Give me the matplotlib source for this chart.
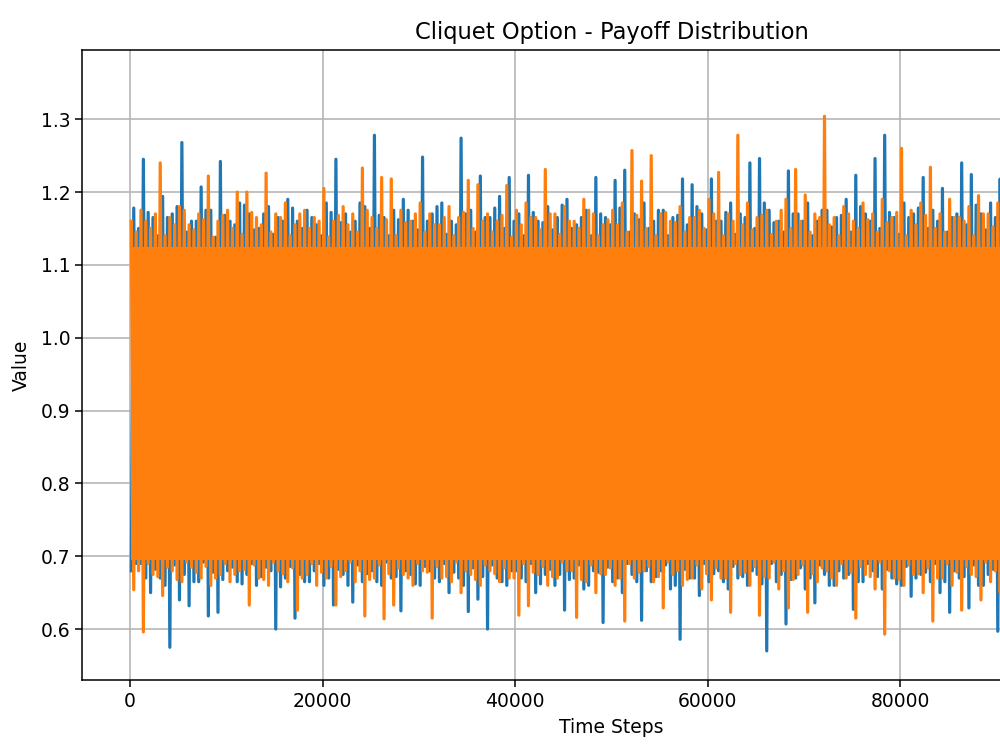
# -*- coding: utf-8 -*-
# Cliquet Option - Payoff Distribution (two simulated paths, extremes per 1000 steps)

import numpy as np
import matplotlib
matplotlib.use('Agg')
import matplotlib.pyplot as plt

# bin width in time steps (each bin keeps two local maxima and two local minima)
bin_steps = 1000

# typical dense range of each path
blue_core = (0.700, 1.120)
orange_core = (0.695, 1.125)

blue_top = [1.178, 1.245, 1.165, 1.194, 1.170, 1.268, 1.160, 1.207, 1.175, 1.242,
            1.160, 1.185, 1.170, 1.150, 1.180, 1.165, 1.190, 1.160, 1.175, 1.155,
            1.185, 1.245, 1.170, 1.160, 1.180, 1.278, 1.165, 1.175, 1.190, 1.160,
            1.248, 1.170, 1.185, 1.160, 1.274, 1.175, 1.222, 1.165, 1.194, 1.220,
            1.170, 1.223, 1.160, 1.180, 1.165, 1.190, 1.155, 1.175, 1.220, 1.165,
            1.216, 1.230, 1.170, 1.185, 1.160, 1.175, 1.165, 1.218, 1.210, 1.170,
            1.218, 1.160, 1.185, 1.170, 1.240, 1.246, 1.175, 1.160, 1.229, 1.170,
            1.185, 1.160, 1.175, 1.165, 1.190, 1.223, 1.170, 1.246, 1.278, 1.165,
            1.185, 1.170, 1.220, 1.175, 1.205, 1.165, 1.240, 1.224, 1.170, 1.185,
            1.218]

blue_top_mid = [1.150, 1.172, 1.140, 1.165, 1.180, 1.145, 1.160, 1.175, 1.138, 1.168,
                1.155, 1.182, 1.148, 1.170, 1.142, 1.160, 1.178, 1.150, 1.165, 1.140,
                1.172, 1.158, 1.145, 1.185, 1.150, 1.168, 1.140, 1.162, 1.175, 1.148,
                1.160, 1.180, 1.142, 1.155, 1.170, 1.145, 1.165, 1.178, 1.150, 1.160,
                1.140, 1.172, 1.158, 1.148, 1.182, 1.150, 1.165, 1.140, 1.170, 1.155,
                1.178, 1.145, 1.162, 1.150, 1.175, 1.140, 1.168, 1.155, 1.180, 1.148,
                1.160, 1.172, 1.142, 1.165, 1.150, 1.185, 1.158, 1.145, 1.170, 1.160,
                1.140, 1.175, 1.152, 1.168, 1.145, 1.180, 1.160, 1.150, 1.172, 1.142,
                1.165, 1.178, 1.150, 1.160, 1.145, 1.170, 1.155, 1.182, 1.148, 1.165,
                1.158]

blue_bottom = [0.680, 0.690, 0.650, 0.670, 0.575, 0.640, 0.632, 0.665, 0.618, 0.623,
               0.680, 0.665, 0.675, 0.660, 0.685, 0.600, 0.670, 0.615, 0.665, 0.680,
               0.660, 0.633, 0.675, 0.637, 0.665, 0.680, 0.660, 0.670, 0.625, 0.675,
               0.660, 0.680, 0.665, 0.650, 0.670, 0.624, 0.641, 0.600, 0.670, 0.660,
               0.680, 0.665, 0.650, 0.675, 0.660, 0.626, 0.670, 0.655, 0.680, 0.609,
               0.665, 0.650, 0.675, 0.612, 0.665, 0.680, 0.655, 0.586, 0.670, 0.646,
               0.665, 0.680, 0.655, 0.670, 0.660, 0.675, 0.570, 0.665, 0.607, 0.670,
               0.655, 0.636, 0.675, 0.660, 0.670, 0.627, 0.665, 0.680, 0.655, 0.670,
               0.660, 0.645, 0.675, 0.665, 0.650, 0.623, 0.670, 0.629, 0.660, 0.675,
               0.597]

blue_bottom_mid = [0.690, 0.670, 0.682, 0.660, 0.688, 0.675, 0.665, 0.692, 0.678, 0.668,
                   0.685, 0.662, 0.690, 0.672, 0.680, 0.658, 0.686, 0.675, 0.665, 0.690,
                   0.670, 0.682, 0.660, 0.688, 0.676, 0.665, 0.692, 0.672, 0.680, 0.662,
                   0.686, 0.670, 0.690, 0.678, 0.660, 0.684, 0.672, 0.688, 0.665, 0.680,
                   0.670, 0.690, 0.662, 0.682, 0.675, 0.668, 0.688, 0.660, 0.678, 0.685,
                   0.670, 0.690, 0.665, 0.680, 0.672, 0.688, 0.660, 0.682, 0.670, 0.690,
                   0.676, 0.665, 0.686, 0.672, 0.680, 0.662, 0.690, 0.675, 0.668, 0.684,
                   0.670, 0.688, 0.660, 0.680, 0.675, 0.665, 0.690, 0.672, 0.682, 0.662,
                   0.686, 0.670, 0.678, 0.690, 0.665, 0.680, 0.672, 0.688, 0.660, 0.682,
                   0.675]

orange_top = [1.160, 1.175, 1.150, 1.240, 1.165, 1.180, 1.155, 1.170, 1.222, 1.160,
              1.175, 1.200, 1.200, 1.165, 1.226, 1.170, 1.185, 1.155, 1.175, 1.165,
              1.205, 1.160, 1.180, 1.170, 1.233, 1.165, 1.220, 1.218, 1.175, 1.160,
              1.185, 1.170, 1.155, 1.180, 1.165, 1.216, 1.210, 1.170, 1.160, 1.209,
              1.175, 1.185, 1.165, 1.231, 1.170, 1.180, 1.160, 1.190, 1.170, 1.155,
              1.175, 1.185, 1.257, 1.215, 1.250, 1.170, 1.160, 1.180, 1.165, 1.175,
              1.190, 1.227, 1.170, 1.278, 1.185, 1.165, 1.175, 1.160, 1.190, 1.231,
              1.196, 1.170, 1.304, 1.165, 1.180, 1.160, 1.185, 1.170, 1.190, 1.165,
              1.260, 1.175, 1.185, 1.234, 1.170, 1.190, 1.165, 1.180, 1.195, 1.170,
              1.185]

orange_top_mid = [1.145, 1.160, 1.170, 1.140, 1.155, 1.175, 1.148, 1.162, 1.138, 1.168,
                  1.150, 1.142, 1.172, 1.155, 1.145, 1.165, 1.140, 1.170, 1.150, 1.160,
                  1.138, 1.168, 1.155, 1.145, 1.175, 1.150, 1.162, 1.140, 1.158, 1.170,
                  1.145, 1.155, 1.165, 1.140, 1.172, 1.150, 1.160, 1.145, 1.168, 1.138,
                  1.155, 1.165, 1.148, 1.170, 1.142, 1.160, 1.150, 1.175, 1.140, 1.162,
                  1.155, 1.145, 1.168, 1.150, 1.140, 1.172, 1.158, 1.145, 1.165, 1.150,
                  1.170, 1.140, 1.160, 1.155, 1.148, 1.168, 1.142, 1.175, 1.150, 1.160,
                  1.145, 1.165, 1.155, 1.140, 1.170, 1.150, 1.162, 1.145, 1.158, 1.172,
                  1.140, 1.155, 1.168, 1.150, 1.145, 1.165, 1.160, 1.140, 1.170, 1.152,
                  1.160]

orange_bottom = [0.654, 0.596, 0.675, 0.646, 0.680, 0.665, 0.685, 0.670, 0.660, 0.675,
                 0.665, 0.680, 0.633, 0.670, 0.660, 0.680, 0.665, 0.626, 0.675, 0.660,
                 0.670, 0.633, 0.680, 0.665, 0.618, 0.670, 0.614, 0.633, 0.675, 0.660,
                 0.680, 0.615, 0.670, 0.665, 0.650, 0.675, 0.660, 0.680, 0.665, 0.670,
                 0.619, 0.632, 0.675, 0.660, 0.670, 0.680, 0.616, 0.665, 0.650, 0.675,
                 0.660, 0.611, 0.670, 0.680, 0.665, 0.629, 0.675, 0.660, 0.670, 0.655,
                 0.640, 0.670, 0.623, 0.675, 0.660, 0.619, 0.670, 0.655, 0.629, 0.675,
                 0.623, 0.665, 0.680, 0.660, 0.670, 0.615, 0.675, 0.655, 0.593, 0.670,
                 0.660, 0.675, 0.650, 0.611, 0.670, 0.660, 0.626, 0.675, 0.640, 0.665,
                 0.650]

orange_bottom_mid = [0.680, 0.690, 0.672, 0.685, 0.668, 0.692, 0.678, 0.686, 0.670, 0.690,
                     0.675, 0.682, 0.688, 0.668, 0.692, 0.676, 0.684, 0.670, 0.690, 0.678,
                     0.686, 0.672, 0.692, 0.680, 0.668, 0.688, 0.676, 0.684, 0.670, 0.690,
                     0.678, 0.686, 0.672, 0.692, 0.680, 0.668, 0.688, 0.676, 0.684, 0.670,
                     0.690, 0.678, 0.686, 0.672, 0.692, 0.680, 0.668, 0.688, 0.676, 0.684,
                     0.670, 0.690, 0.678, 0.686, 0.672, 0.692, 0.680, 0.668, 0.688, 0.676,
                     0.684, 0.670, 0.690, 0.678, 0.686, 0.672, 0.692, 0.680, 0.668, 0.688,
                     0.676, 0.684, 0.670, 0.690, 0.678, 0.686, 0.672, 0.692, 0.680, 0.668,
                     0.688, 0.676, 0.684, 0.670, 0.690, 0.678, 0.686, 0.672, 0.692, 0.680,
                     0.670]

x_ticks = [0, 20000, 40000, 60000, 80000]


# 各ビンの極値を順番に並べて一本の折れ線にする
def pathFromBins(extremes):
    n = len(extremes[0])
    m = len(extremes)
    starts = np.arange(n) * bin_steps
    offsets = (np.arange(m) + 0.5) / m * bin_steps
    x = (starts[:, None] + offsets[None, :]).ravel()
    y = np.column_stack(extremes).ravel()
    return x, y


def plotPath(ax, extremes, core, color, z):
    x, y = pathFromBins(extremes)
    ax.fill_between([x[0], x[-1]], core[0], core[1], color=color,
                    linewidth=0, zorder=z)
    ax.plot(x, y, color=color, linewidth=2.3, zorder=z + 0.1)


if __name__ == '__main__':
    plt.rcParams['font.size'] = 13.5
    fig = plt.figure(figsize=(10, 7.5), dpi=100)
    # the original axes run past the right edge of the image
    ax = fig.add_axes([0.082, 0.0933, 1.059, 0.840])
    ax.set_axisbelow(True)

    plotPath(ax, [blue_bottom, blue_top, blue_bottom_mid, blue_top_mid],
             blue_core, '#1f77b4', 2.0)
    plotPath(ax, [orange_top, orange_bottom, orange_top_mid, orange_bottom_mid],
             orange_core, '#ff7f0e', 2.2)

    ax.set_xlim(-5000, 105000)
    ax.set_ylim(0.530, 1.395)
    ax.set_xticks(x_ticks)
    ax.set_title('Cliquet Option - Payoff Distribution', fontsize=16.3, pad=8)
    ax.set_xlabel('Time Steps', labelpad=5.5)
    ax.set_ylabel('Value', labelpad=7)
    ax.grid(True, linewidth=1.1)
    ax.tick_params(length=5, width=1.1)
    for spine in ax.spines.values():
        spine.set_linewidth(1.1)

    fig.savefig('out.png', dpi=100)
